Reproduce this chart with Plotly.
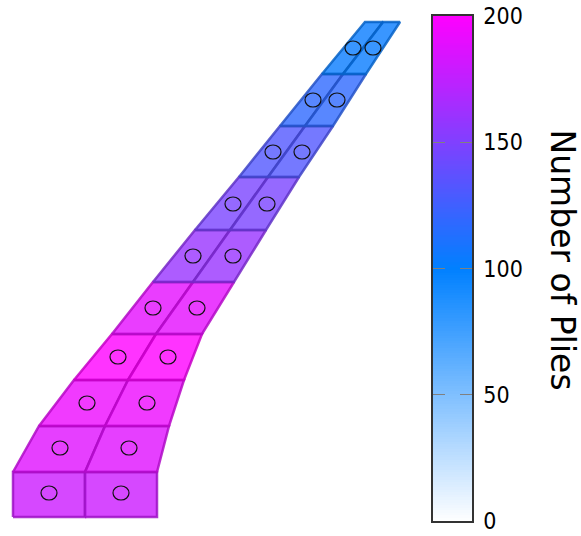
import plotly.graph_objects as go
from plotly.colors import sample_colorscale

# mesh nodes (root to tip)
row_y = [517, 472, 426, 380, 334, 282, 230, 177, 126, 74, 22]
left_x = [13, 13, 39, 74, 112, 153, 195, 239, 280, 322, 365]
mid_x = [85, 85, 105, 128, 156, 193, 230, 268, 305, 343, 383]
right_x = [157, 157, 169, 184, 202, 234, 266, 299, 333, 366, 400]

# number of plies per row, both columns the same
plies = [180, 188, 193, 200, 190, 160, 148, 132, 118, 103]

# ply drop markers
marker_y = [493, 448, 403, 357, 308, 256, 204, 152, 100, 48]
marker_left = [49, 60, 87, 118, 153, 193, 233, 273, 313, 353]
marker_right = [121, 129, 147, 168, 197, 233, 267, 302, 337, 373]

ply_ticks = [0, 50, 100, 150, 200]
bar_values = list(range(0, 201))

ply_scale = [[0, "rgb(255,255,255)"], [0.5, "rgb(0,128,255)"], [1, "rgb(255,0,255)"]]


def ply_color(value, alpha):
    rgb = sample_colorscale(ply_scale, value / 200)[0]
    return rgb.replace("rgb(", "rgba(").replace(")", f",{alpha})")


def edge_color(value):
    rgb = sample_colorscale(ply_scale, value / 200)[0]
    r, g, b = [float(c) for c in rgb[4:-1].split(",")]
    return f"rgba({r * 0.78:.0f},{g * 0.78:.0f},{b * 0.78:.0f},0.85)"


fig = go.Figure()

for i, value in enumerate(plies):
    for a, b in ((left_x, mid_x), (mid_x, right_x)):
        fig.add_trace(go.Scatter(
            x=[a[i], b[i], b[i + 1], a[i + 1], a[i]],
            y=[row_y[i], row_y[i], row_y[i + 1], row_y[i + 1], row_y[i]],
            mode="lines",
            fill="toself",
            fillcolor=ply_color(value, 0.8),
            line=dict(color=edge_color(value), width=2.5),
            hoverinfo="skip",
            showlegend=False,
        ))

# the markers are slightly flattened in the original, so ellipses rather than symbols
for xs in (marker_left, marker_right):
    for x, y in zip(xs, marker_y):
        fig.add_shape(
            type="circle",
            xref="x",
            yref="y",
            x0=x - 8,
            x1=x + 8,
            y0=y - 7,
            y1=y + 7,
            line=dict(color="#111111", width=1.2),
        )

# colour bar drawn as a heatmap so the ticks can sit on both sides
fig.add_trace(go.Heatmap(
    x=[0, 1],
    y=bar_values,
    z=[[v, v] for v in bar_values],
    zmin=0,
    zmax=200,
    colorscale=ply_scale,
    showscale=False,
    xaxis="x2",
    yaxis="y2",
))

fig.update_layout(
    width=581,
    height=536,
    autosize=False,
    margin=dict(l=0, r=0, t=0, b=0),
    paper_bgcolor="white",
    plot_bgcolor="rgba(0,0,0,0)",
    font=dict(family="DejaVu Sans", color="black"),
    xaxis=dict(range=[0, 581], domain=[0, 1], visible=False, automargin=False),
    yaxis=dict(range=[536, 0], domain=[0, 1], visible=False, automargin=False),
    xaxis2=dict(
        domain=[433 / 581, 472 / 581],
        range=[0, 1],
        anchor="y2",
        automargin=False,
        showticklabels=False,
        ticks="",
        showgrid=False,
        zeroline=False,
        showline=True,
        mirror=True,
        linecolor="#333333",
        linewidth=1.5,
    ),
    yaxis2=dict(
        domain=[15 / 536, 520 / 536],
        range=[0, 200],
        anchor="x2",
        side="right",
        automargin=False,
        tickvals=ply_ticks,
        ticks="inside",
        ticklen=12,
        tickwidth=1,
        tickcolor="#808080",
        tickfont=dict(family="DejaVu Sans Condensed", size=23),
        ticklabelstandoff=5,
        showgrid=False,
        zeroline=False,
        showline=True,
        mirror="ticks",
        linecolor="#333333",
        linewidth=1.5,
    ),
    annotations=[dict(
        text="Number of Plies",
        xref="paper",
        yref="paper",
        x=1,
        xanchor="right",
        xshift=3,
        y=(536 - 260) / 536,
        showarrow=False,
        textangle=90,
        font=dict(family="DejaVu Sans", size=33),
    )],
)

fig.write_html(
    "out.html",
    config=dict(displayModeBar=False),
    post_script="document.body.style.margin = '0';",
)
